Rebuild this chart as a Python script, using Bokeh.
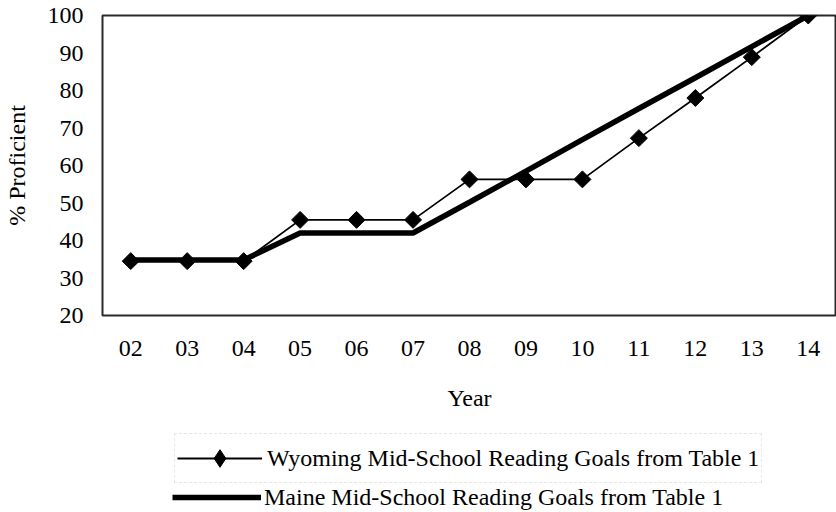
import math
from bokeh.plotting import figure
from bokeh.layouts import column
from bokeh.models import Range1d, FactorRange, Legend, LegendItem
from bokeh.embed import file_html
from bokeh.resources import INLINE

years = ["02", "03", "04", "05", "06", "07", "08", "09", "10", "11", "12", "13", "14"]
wyoming = [34.5, 34.5, 34.5, 45.5, 45.5, 45.5, 56.3, 56.3, 56.3, 67.3, 78.0, 88.9, 100.0]
maine = [34.8, 34.8, 34.8, 42.0, 42.0, 42.0, 50.2, 58.5, 66.9, 75.2, 83.4, 91.7, 100.0]
y_ticks = [20, 30, 40, 50, 60, 70, 80, 90, 100]
labels = ["Wyoming Mid-School Reading Goals from Table 1",
          "Maine Mid-School Reading Goals from Table 1"]

FONT = "Liberation Serif"

p = figure(
    width=836, height=430,
    x_range=FactorRange(*years, range_padding=0),
    y_range=Range1d(20, 100),
    output_backend="svg", toolbar_location=None,
    min_border_left=99, min_border_right=0, min_border_top=15, min_border_bottom=115,
)
p.background_fill_color = "white"
p.border_fill_color = "white"
p.outline_line_color = "#2a2a2a"
p.outline_line_width = 2
p.xgrid.grid_line_color = None
p.ygrid.grid_line_color = None

for ax in (p.xaxis[0], p.yaxis[0]):
    ax.axis_line_color = None
    ax.major_tick_line_color = None
    ax.minor_tick_line_color = None
    ax.major_tick_in = 0
    ax.major_tick_out = 0
    ax.minor_tick_in = 0
    ax.minor_tick_out = 0
    ax.major_label_text_font = FONT
    ax.major_label_text_font_size = "24px"
    ax.major_label_text_color = "black"
    ax.axis_label_text_font = FONT
    ax.axis_label_text_font_size = "24px"
    ax.axis_label_text_font_style = "normal"
    ax.axis_label_text_color = "black"

p.yaxis.ticker = y_ticks
p.yaxis.major_label_standoff = 19
p.yaxis.axis_label = "% Proficient"
p.yaxis.axis_label_standoff = 15

p.xaxis.major_label_standoff = 25
p.xaxis.axis_label = "Year"
p.xaxis.axis_label_standoff = 26

p.line(years, maine, line_color="black", line_width=5.5)
p.line(years, wyoming, line_color="black", line_width=1.8)
p.scatter(years, wyoming, marker="square", angle=math.pi / 4, size=12,
          fill_color="black", line_color="black")

# legend strip below the chart (its frame is aligned with the chart's frame)
lg = figure(
    width=836, height=82, output_backend="svg", toolbar_location=None,
    x_axis_location=None, y_axis_location=None,
    min_border_left=99, min_border_right=0, min_border_top=0, min_border_bottom=0,
    x_range=FactorRange(*years, range_padding=0), y_range=Range1d(200, 300),
)
lg.outline_line_color = None
lg.xgrid.grid_line_color = None
lg.ygrid.grid_line_color = None
lg.background_fill_color = "white"
lg.border_fill_color = "white"

# off-range copies of the series, only used for the legend swatches
l_me = lg.line(years, maine, line_color="black", line_width=5.5)
l_wy = lg.line(years, wyoming, line_color="black", line_width=1.8)
s_wy = lg.scatter(years, wyoming, marker="diamond", size=19,
                  fill_color="black", line_color="black")

common = dict(
    orientation="vertical", margin=0, padding=2,
    label_text_font=FONT, label_text_font_size="24px", label_text_color="black",
    background_fill_alpha=0,
)

legend_wy = Legend(
    items=[LegendItem(label=labels[0], renderers=[l_wy, s_wy])],
    location=(72, 29),
    glyph_width=85, glyph_height=44, label_height=44, label_standoff=5,
    border_line_color="#cfcfcf", border_line_dash="2 2", border_line_width=1,
    **common,
)
legend_me = Legend(
    items=[LegendItem(label=labels[1], renderers=[l_me])],
    location=(70, 1),
    glyph_width=89, glyph_height=28, label_height=28, label_standoff=3,
    border_line_color=None,
    **common,
)
lg.add_layout(legend_wy, "center")
lg.add_layout(legend_me, "center")

layout = column(p, lg, spacing=0)
open("out.html", "w").write(file_html(layout, INLINE))
